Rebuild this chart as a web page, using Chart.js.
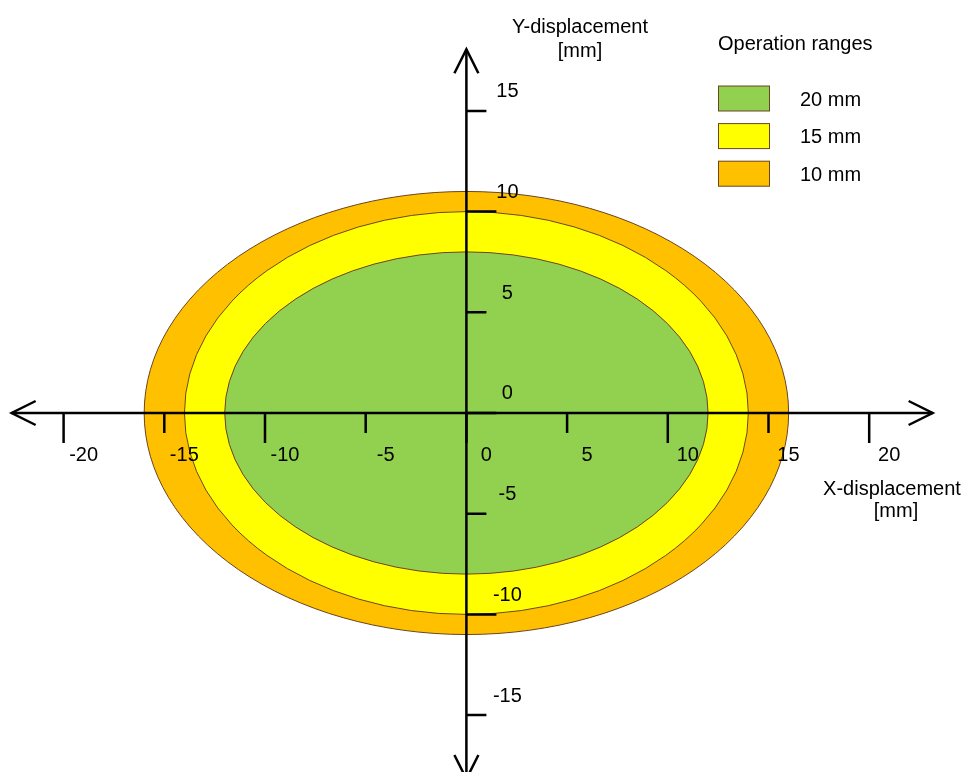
<!DOCTYPE html>
<html>
<head>
<meta charset="utf-8">
<script src="https://cdn.jsdelivr.net/npm/chart.js@4/dist/chart.umd.min.js"></script>
<style>
  html, body { margin: 0; padding: 0; background: #fff; }
  #wrap { width: 968px; height: 772px; position: relative; }
</style>
</head>
<body>
<div id="wrap"><canvas id="opChart"></canvas></div>
<script>
// operation ranges (inner -> outer)
const ranges = ["20 mm", "15 mm", "10 mm"];
const semiX = [12, 14, 16];   // half width, mm
const semiY = [8, 10, 11];    // half height, mm
const fills = ["#92D050", "#FFFF00", "#FFC000"];

const xTicks = [-20, -15, -10, -5, 0, 5, 10, 15, 20];
const yTicks = [-15, -10, -5, 0, 5, 10, 15];

const FONT = "20px 'Liberation Sans', Arial, sans-serif";
const OUTLINE = "#6b4422";

const opPlugin = {
  id: "opRanges",
  beforeDatasetsDraw(chart) {
    const ctx = chart.ctx;
    const xs = chart.scales.x, ys = chart.scales.y;
    ctx.save();
    for (let i = ranges.length - 1; i >= 0; i--) {
      const c = chart.data.datasets[i].data[0];
      const cx = xs.getPixelForValue(c.x), cy = ys.getPixelForValue(c.y);
      const rx = xs.getPixelForValue(c.x + semiX[i]) - cx;
      const ry = cy - ys.getPixelForValue(c.y + semiY[i]);
      ctx.beginPath();
      ctx.ellipse(cx, cy, rx, ry, 0, 0, Math.PI * 2);
      ctx.fillStyle = fills[i];
      ctx.fill();
      ctx.lineWidth = 1;
      ctx.strokeStyle = OUTLINE;
      ctx.stroke();
    }
    ctx.restore();
  },
  afterDatasetsDraw(chart) {
    const ctx = chart.ctx;
    const xs = chart.scales.x, ys = chart.scales.y;
    const px = v => xs.getPixelForValue(v);
    const py = v => ys.getPixelForValue(v);
    const x0 = px(0), y0 = py(0);

    ctx.save();
    ctx.strokeStyle = "#000";
    ctx.lineWidth = 2.5;
    ctx.lineCap = "butt";

    // axis lines
    const xl = px(-22.58), xr = px(23.15);
    const yt = py(18.06), yb = py(-18.17);
    ctx.beginPath();
    ctx.moveTo(xl, y0); ctx.lineTo(xr, y0);
    ctx.moveTo(x0, yt); ctx.lineTo(x0, yb);
    ctx.stroke();

    // open arrow heads
    const a = 24, w = 12;
    ctx.beginPath();
    ctx.moveTo(xl + a, y0 - w); ctx.lineTo(xl, y0); ctx.lineTo(xl + a, y0 + w);
    ctx.moveTo(xr - a, y0 - w); ctx.lineTo(xr, y0); ctx.lineTo(xr - a, y0 + w);
    ctx.moveTo(x0 - w, yt + a); ctx.lineTo(x0, yt); ctx.lineTo(x0 + w, yt + a);
    ctx.moveTo(x0 - w, yb - a); ctx.lineTo(x0, yb); ctx.lineTo(x0 + w, yb - a);
    ctx.stroke();

    // ticks
    ctx.beginPath();
    xTicks.forEach(v => {
      const len = v % 10 === 0 ? 30 : 20;
      ctx.moveTo(px(v), y0); ctx.lineTo(px(v), y0 + len);
    });
    yTicks.forEach(v => {
      const len = v % 10 === 0 ? 30 : 20;
      ctx.moveTo(x0, py(v)); ctx.lineTo(x0 + len, py(v));
    });
    ctx.stroke();

    // tick labels
    ctx.fillStyle = "#000";
    ctx.font = FONT;
    ctx.textAlign = "center";
    ctx.textBaseline = "alphabetic";
    xTicks.forEach(v => ctx.fillText(String(v), px(v) + 20, y0 + 48));
    yTicks.forEach(v => ctx.fillText(String(v), x0 + 41, py(v) - 13.5));

    // axis titles
    ctx.fillText("Y-displacement", 580, 33);
    ctx.fillText("[mm]", 580, 57);
    ctx.fillText("X-displacement", 892, 495);
    ctx.fillText("[mm]", 896, 517);

    // legend
    ctx.textAlign = "left";
    ctx.fillText("Operation ranges", 718, 50);
    ranges.forEach((r, i) => {
      const by = 86 + i * 37.6;
      ctx.fillStyle = fills[i];
      ctx.fillRect(718.5, by, 51, 25);
      ctx.lineWidth = 1;
      ctx.strokeStyle = OUTLINE;
      ctx.strokeRect(718.5, by, 51, 25);
      ctx.fillStyle = "#000";
      ctx.fillText(r, 800, by + 19.5);
    });
    ctx.restore();
  }
};

new Chart(document.getElementById("opChart"), {
  type: "scatter",
  data: {
    datasets: ranges.map((r, i) => ({
      label: r,
      data: [{ x: 0, y: 0 }],
      backgroundColor: fills[i],
      pointRadius: 0
    }))
  },
  options: {
    responsive: true,
    maintainAspectRatio: false,
    animation: false,
    layout: { padding: 0 },
    events: [],
    plugins: {
      legend: { display: false },
      tooltip: { enabled: false }
    },
    scales: {
      x: { type: "linear", min: -23.158, max: 24.906, display: false },
      y: { type: "linear", min: -17.825, max: 20.506, display: false }
    }
  },
  plugins: [opPlugin]
});
</script>
</body>
</html>
